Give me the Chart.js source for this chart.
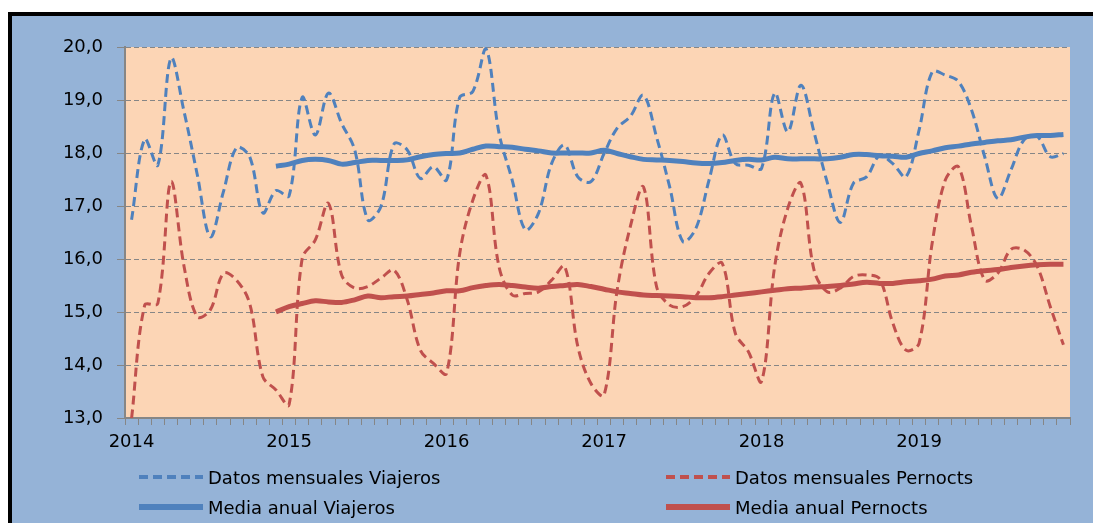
<!DOCTYPE html>
<html>
<head>
<meta charset="utf-8">
<script src="https://cdn.jsdelivr.net/npm/chart.js@4.4.1/dist/chart.umd.min.js"></script>
<style>
  html, body { margin: 0; padding: 0; background: #fff; }
  #wrap { position: relative; width: 1093px; height: 523px; overflow: hidden; }
  #c { position: absolute; left: 0; top: 0; }
  .lg { position: absolute; display: flex; align-items: center; height: 22px;
        font-family: "DejaVu Sans", sans-serif; font-size: 18px; color: #000; white-space: nowrap; }
  .lg svg { margin-right: 5px; }
</style>
</head>
<body>
<div id="wrap">
  <canvas id="c" width="1093" height="523"></canvas>
</div>
<script>
// ---- Data ----
const years = ['2014', '2015', '2016', '2017', '2018', '2019'];
const months = ['ene', 'feb', 'mar', 'abr', 'may', 'jun', 'jul', 'ago', 'sep', 'oct', 'nov', 'dic'];
const categories = years.flatMap(y => months.map(m => m + ' ' + y));

const seriesNames = ['Datos mensuales Viajeros', 'Datos mensuales Pernocts', 'Media anual Viajeros', 'Media anual Pernocts'];

const viajerosMensual = [
  16.74, 18.26, 17.77, 19.79, 18.78, 17.60, 16.42, 17.27, 18.10, 17.93, 16.87, 17.29,
  17.19, 19.05, 18.34, 19.13, 18.56, 18.06, 16.74, 16.99, 18.17, 18.06, 17.52, 17.74,
  17.49, 19.05, 19.16, 19.97, 18.37, 17.49, 16.55, 16.86, 17.80, 18.15, 17.55, 17.46,
  17.99, 18.47, 18.69, 19.09, 18.30, 17.36, 16.33, 16.58, 17.49, 18.34, 17.80, 17.77,
  17.71, 19.13, 18.40, 19.28, 18.39, 17.45, 16.69, 17.43, 17.55, 17.95, 17.80, 17.55,
  18.43, 19.53, 19.47, 19.35, 18.81, 17.93, 17.14, 17.68, 18.25, 18.31, 17.93, 17.99
];
const pernoctMensual = [
  12.99, 15.13, 15.16, 17.46, 15.86, 14.91, 15.04, 15.73, 15.60, 15.16, 13.78, 13.53,
  13.25, 16.01, 16.36, 17.05, 15.70, 15.45, 15.48, 15.64, 15.79, 15.23, 14.28, 14.03,
  13.84, 16.10, 17.11, 17.58, 15.85, 15.32, 15.35, 15.38, 15.60, 15.86, 14.35, 13.65,
  13.43, 15.42, 16.61, 17.36, 15.48, 15.13, 15.10, 15.30, 15.73, 15.92, 14.60, 14.25,
  13.69, 15.86, 16.96, 17.43, 15.79, 15.38, 15.45, 15.67, 15.70, 15.62, 14.79, 14.28,
  14.41, 16.30, 17.49, 17.74, 16.61, 15.60, 15.73, 16.18, 16.17, 15.86, 15.10, 14.38
];
const viajerosMedia = [
  null, null, null, null, null, null, null, null, null, null, null, 17.75,
  17.79, 17.86, 17.88, 17.86, 17.79, 17.82, 17.86, 17.86, 17.86, 17.87, 17.93, 17.97,
  17.99, 18.00, 18.07, 18.13, 18.12, 18.11, 18.07, 18.04, 18.00, 18.00, 18.00, 18.00,
  18.05, 17.99, 17.93, 17.88, 17.87, 17.86, 17.84, 17.81, 17.80, 17.82, 17.86, 17.88,
  17.87, 17.92, 17.89, 17.89, 17.89, 17.89, 17.92, 17.97, 17.97, 17.95, 17.94, 17.92,
  17.99, 18.04, 18.10, 18.13, 18.17, 18.20, 18.23, 18.25, 18.30, 18.33, 18.33, 18.35
];
const pernoctMedia = [
  null, null, null, null, null, null, null, null, null, null, null, 15.00,
  15.10, 15.16, 15.21, 15.19, 15.18, 15.23, 15.30, 15.27, 15.29, 15.30, 15.33, 15.36,
  15.40, 15.40, 15.46, 15.50, 15.52, 15.50, 15.47, 15.45, 15.48, 15.50, 15.52, 15.48,
  15.43, 15.38, 15.35, 15.32, 15.31, 15.30, 15.29, 15.27, 15.27, 15.29, 15.32, 15.35,
  15.38, 15.41, 15.44, 15.45, 15.47, 15.48, 15.50, 15.53, 15.56, 15.54, 15.54, 15.57,
  15.59, 15.62, 15.68, 15.70, 15.75, 15.78, 15.80, 15.84, 15.87, 15.89, 15.90, 15.90
];
const yTicks = [13, 14, 15, 16, 17, 18, 19, 20];

// ---- Styles ----
const BLUE = '#4F81BD', RED = '#C0504D';
const FONT = { family: 'DejaVu Sans', size: 18 };

const bgPlugin = {
  id: 'bg',
  beforeDraw(chart) {
    const { ctx, width, height, chartArea: a } = chart;
    ctx.save();
    ctx.fillStyle = '#ffffff';
    ctx.fillRect(0, 0, width, height);
    ctx.fillStyle = '#000000';
    ctx.fillRect(8, 12, width - 8, height - 12);
    ctx.fillStyle = '#95B3D7';
    ctx.fillRect(12, 16, width - 12, height - 16);
    ctx.fillStyle = '#FCD5B5';
    ctx.fillRect(a.left, a.top, a.right - a.left, a.bottom - a.top);
    ctx.restore();
  }
};

const chart = new Chart(document.getElementById('c'), {
  type: 'line',
  data: {
    labels: categories,
    datasets: [
      { label: seriesNames[0], data: viajerosMensual, borderColor: BLUE, borderWidth: 3, borderDash: [9, 5], order: 2 },
      { label: seriesNames[1], data: pernoctMensual, borderColor: RED, borderWidth: 3, borderDash: [9, 5], order: 3 },
      { label: seriesNames[2], data: viajerosMedia, borderColor: BLUE, borderWidth: 5, borderDash: [], order: 0 },
      { label: seriesNames[3], data: pernoctMedia, borderColor: RED, borderWidth: 5, borderDash: [], order: 1 }
    ]
  },
  options: {
    responsive: false,
    animation: false,
    devicePixelRatio: 1,
    layout: { padding: { left: 63, top: 47, right: 23, bottom: 65 } },
    elements: {
      point: { radius: 0 },
      line: { tension: 0.35, fill: false, borderCapStyle: 'butt', borderJoinStyle: 'round' }
    },
    plugins: { legend: { display: false }, tooltip: { enabled: false } },
    scales: {
      x: {
        type: 'category',
        offset: true,
        grid: { offset: true, drawOnChartArea: false, drawTicks: true, tickLength: 7, color: '#868686', lineWidth: 1 },
        border: { display: true, color: '#868686', width: 2 },
        ticks: {
          autoSkip: false, maxRotation: 0, minRotation: 0, padding: 7, color: '#000', font: FONT,
          callback: (v, i) => categories[i].startsWith('ene') ? categories[i].split(' ')[1] : ''
        },
        afterFit: s => { s.height = 40; }
      },
      y: {
        min: yTicks[0], max: yTicks[yTicks.length - 1],
        afterBuildTicks: s => { s.ticks = yTicks.map(v => ({ value: v })); },
        ticks: { padding: 14, color: '#000', font: FONT, callback: v => v.toFixed(1).replace('.', ',') },
        grid: { color: '#868686', lineWidth: 1, drawTicks: true, tickLength: 8, tickColor: '#868686' },
        border: { display: true, color: '#868686', width: 2, dash: [5, 3] },
        afterFit: s => { s.width = 62; }
      }
    }
  },
  plugins: [bgPlugin]
});

// ---- Legend (HTML, built from the datasets) ----
const legendPos = [
  { left: 139, top: 466 }, { left: 666, top: 466 },
  { left: 139, top: 496 }, { left: 666, top: 496 }
];
const wrap = document.getElementById('wrap');
chart.data.datasets.forEach((ds, i) => {
  const d = document.createElement('div');
  d.className = 'lg';
  d.style.left = legendPos[i].left + 'px';
  d.style.top = legendPos[i].top + 'px';
  const dash = ds.borderDash && ds.borderDash.length ? ds.borderDash.join(' ') : 'none';
  const sw = ds.borderWidth === 5 ? 6 : 4;
  d.innerHTML = '<svg width="64" height="10"><line x1="0" y1="5" x2="64" y2="5" stroke="' + ds.borderColor +
    '" stroke-width="' + sw + '" stroke-dasharray="' + dash + '" stroke-linecap="' + (dash === 'none' ? 'round' : 'butt') + '"/></svg>';
  const t = document.createElement('span');
  t.textContent = ds.label;
  d.appendChild(t);
  wrap.appendChild(d);
});
</script>
</body>
</html>
